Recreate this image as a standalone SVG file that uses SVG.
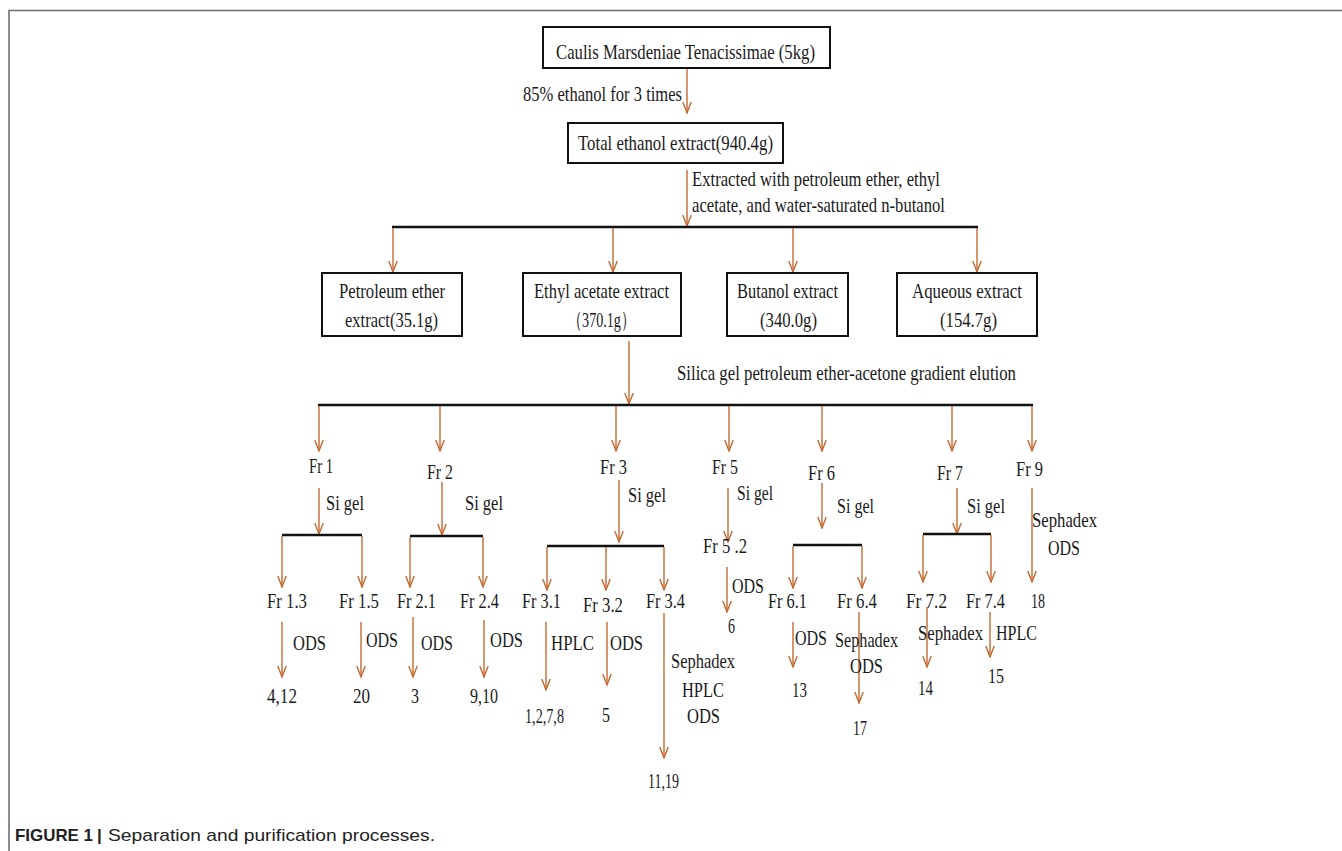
<svg xmlns="http://www.w3.org/2000/svg" width="1342" height="851" viewBox="0 0 1342 851">
<style>
.t{font-family:"Liberation Serif","Times New Roman",serif;font-size:21px;fill:#1a1a1a}
.b{font-size:22px}
.box{fill:#fff;stroke:#111;stroke-width:2}
.bar{stroke:#111;stroke-width:2.6;fill:none}
.ar{stroke:#C46A32;stroke-width:1.4;fill:none;marker-end:url(#ah)}
.frame{stroke:#707070;stroke-width:1.6;fill:none}
.cap{font-family:"Liberation Sans",Arial,sans-serif;font-size:17px;fill:#222}
</style>
<defs>
<marker id="ah" viewBox="0 0 12 10" refX="11" refY="5" markerWidth="12" markerHeight="10" markerUnits="userSpaceOnUse" orient="auto">
<path d="M0,0.8 L11,5 L0,9.2" fill="none" stroke="#C46A32" stroke-width="1.4"/>
</marker>
</defs>
<rect width="1342" height="851" fill="#fff"/>
<path class="frame" d="M9,851 V10.5 H1342"/>

<g id="connectors">
<line class="ar" x1="687" y1="68" x2="687" y2="113"/>
<line class="ar" x1="687" y1="170" x2="687" y2="226"/>
<line class="bar" x1="392" y1="227" x2="978" y2="227"/>
<line class="ar" x1="393" y1="228" x2="393" y2="272"/>
<line class="ar" x1="613" y1="228" x2="613" y2="272"/>
<line class="ar" x1="793" y1="228" x2="793" y2="272"/>
<line class="ar" x1="977" y1="228" x2="977" y2="272"/>
<line class="ar" x1="629" y1="341" x2="629" y2="404"/>
<line class="bar" x1="318" y1="405" x2="1033" y2="405"/>
<line class="ar" x1="319" y1="406" x2="319" y2="451"/>
<line class="ar" x1="440" y1="406" x2="440" y2="451"/>
<line class="ar" x1="616" y1="406" x2="616" y2="451"/>
<line class="ar" x1="729" y1="406" x2="729" y2="451"/>
<line class="ar" x1="822" y1="406" x2="822" y2="451"/>
<line class="ar" x1="952" y1="406" x2="952" y2="451"/>
<line class="ar" x1="1032" y1="406" x2="1032" y2="451"/>
<line class="ar" x1="319" y1="488" x2="319" y2="534"/>
<line class="bar" x1="282" y1="535" x2="362" y2="535"/>
<line class="ar" x1="282" y1="536" x2="282" y2="587"/>
<line class="ar" x1="362" y1="536" x2="362" y2="587"/>
<line class="ar" x1="282" y1="622" x2="282" y2="677"/>
<line class="ar" x1="361" y1="622" x2="361" y2="677"/>
<line class="ar" x1="442" y1="482" x2="442" y2="535"/>
<line class="bar" x1="410" y1="536" x2="483" y2="536"/>
<line class="ar" x1="410" y1="537" x2="410" y2="587"/>
<line class="ar" x1="483" y1="537" x2="483" y2="587"/>
<line class="ar" x1="413" y1="617" x2="413" y2="677"/>
<line class="ar" x1="484" y1="620" x2="484" y2="677"/>
<line class="ar" x1="619" y1="480" x2="619" y2="542"/>
<line class="bar" x1="547" y1="546" x2="664" y2="546"/>
<line class="ar" x1="547" y1="547" x2="547" y2="590"/>
<line class="ar" x1="606" y1="547" x2="606" y2="590"/>
<line class="ar" x1="664" y1="547" x2="664" y2="590"/>
<line class="ar" x1="546" y1="622" x2="546" y2="690"/>
<line class="ar" x1="607" y1="622" x2="607" y2="685"/>
<line class="ar" x1="664" y1="613" x2="664" y2="758"/>
<line class="ar" x1="728" y1="488" x2="728" y2="542"/>
<line class="ar" x1="727" y1="567" x2="727" y2="612"/>
<line class="ar" x1="822" y1="483" x2="822" y2="528"/>
<line class="bar" x1="793" y1="545" x2="862" y2="545"/>
<line class="ar" x1="793" y1="546" x2="793" y2="588"/>
<line class="ar" x1="862" y1="546" x2="862" y2="588"/>
<line class="ar" x1="793" y1="622" x2="793" y2="667"/>
<line class="ar" x1="859" y1="612" x2="859" y2="703"/>
<line class="ar" x1="957" y1="488" x2="957" y2="534"/>
<line class="bar" x1="923" y1="534" x2="991" y2="534"/>
<line class="ar" x1="923" y1="535" x2="923" y2="582"/>
<line class="ar" x1="991" y1="535" x2="991" y2="582"/>
<line class="ar" x1="927" y1="607" x2="927" y2="667"/>
<line class="ar" x1="990" y1="612" x2="990" y2="657"/>
<line class="ar" x1="1032" y1="488" x2="1032" y2="582"/>
</g>

<g id="n-start"><rect class="box" x="543" y="27" width="287" height="41"/>
<text class="t b" x="556" y="59" textLength="259" lengthAdjust="spacingAndGlyphs">Caulis Marsdeniae Tenacissimae (5kg)</text></g>
<g id="lbl-ethanol"><text class="t b" x="523" y="101" textLength="159" lengthAdjust="spacingAndGlyphs">85% ethanol for 3 times</text></g>
<g id="n-total"><rect class="box" x="568" y="123" width="215" height="40"/>
<text class="t b" x="578" y="150" textLength="195" lengthAdjust="spacingAndGlyphs">Total ethanol extract(940.4g)</text></g>
<g id="lbl-extracted"><text class="t b" x="692" y="186" textLength="248" lengthAdjust="spacingAndGlyphs">Extracted with petroleum ether, ethyl</text>
<text class="t b" x="692" y="212" textLength="253" lengthAdjust="spacingAndGlyphs">acetate, and water-saturated n-butanol</text></g>

<g id="n-pet"><rect class="box" x="322" y="273" width="140" height="63"/>
<text class="t b" x="339" y="298" textLength="106" lengthAdjust="spacingAndGlyphs">Petroleum ether</text>
<text class="t b" x="345" y="327" textLength="93" lengthAdjust="spacingAndGlyphs">extract(35.1g)</text></g>
<g id="n-ethyl"><rect class="box" x="523" y="273" width="158" height="63"/>
<text class="t b" x="534" y="298" textLength="135" lengthAdjust="spacingAndGlyphs">Ethyl acetate extract</text>
<text class="t b" x="568" y="327" textLength="67" lengthAdjust="spacingAndGlyphs">（370.1g）</text></g>
<g id="n-butanol"><rect class="box" x="727" y="273" width="121" height="63"/>
<text class="t b" x="737" y="298" textLength="101" lengthAdjust="spacingAndGlyphs">Butanol extract</text>
<text class="t b" x="760" y="327" textLength="57" lengthAdjust="spacingAndGlyphs">(340.0g)</text></g>
<g id="n-aqueous"><rect class="box" x="897" y="273" width="140" height="63"/>
<text class="t b" x="912" y="298" textLength="110" lengthAdjust="spacingAndGlyphs">Aqueous extract</text>
<text class="t b" x="940" y="327" textLength="57" lengthAdjust="spacingAndGlyphs">(154.7g)</text></g>
<g id="lbl-silica"><text class="t b" x="677" y="380" textLength="339" lengthAdjust="spacingAndGlyphs">Silica gel petroleum ether-acetone gradient elution</text></g>

<g id="n-fr1"><text class="t" x="309" y="473" textLength="24" lengthAdjust="spacingAndGlyphs">Fr 1</text>
<text class="t" x="326" y="510" textLength="38" lengthAdjust="spacingAndGlyphs">Si gel</text></g>
<g id="n-fr13"><text class="t" x="267" y="608" textLength="40" lengthAdjust="spacingAndGlyphs">Fr 1.3</text>
<text class="t" x="293" y="650" textLength="33" lengthAdjust="spacingAndGlyphs">ODS</text>
<text class="t" x="267" y="703" textLength="30" lengthAdjust="spacingAndGlyphs">4,12</text></g>
<g id="n-fr15"><text class="t" x="339" y="608" textLength="40" lengthAdjust="spacingAndGlyphs">Fr 1.5</text>
<text class="t" x="366" y="647" textLength="32" lengthAdjust="spacingAndGlyphs">ODS</text>
<text class="t" x="353" y="703" textLength="17" lengthAdjust="spacingAndGlyphs">20</text></g>

<g id="n-fr2"><text class="t" x="427" y="479" textLength="26" lengthAdjust="spacingAndGlyphs">Fr 2</text>
<text class="t" x="465" y="510" textLength="38" lengthAdjust="spacingAndGlyphs">Si gel</text></g>
<g id="n-fr21"><text class="t" x="397" y="608" textLength="39" lengthAdjust="spacingAndGlyphs">Fr 2.1</text>
<text class="t" x="421" y="650" textLength="32" lengthAdjust="spacingAndGlyphs">ODS</text>
<text class="t" x="411" y="703" textLength="8" lengthAdjust="spacingAndGlyphs">3</text></g>
<g id="n-fr24"><text class="t" x="460" y="608" textLength="39" lengthAdjust="spacingAndGlyphs">Fr 2.4</text>
<text class="t" x="490" y="647" textLength="33" lengthAdjust="spacingAndGlyphs">ODS</text>
<text class="t" x="470" y="703" textLength="28" lengthAdjust="spacingAndGlyphs">9,10</text></g>

<g id="n-fr3"><text class="t" x="600" y="474" textLength="27" lengthAdjust="spacingAndGlyphs">Fr 3</text>
<text class="t" x="628" y="502" textLength="38" lengthAdjust="spacingAndGlyphs">Si gel</text></g>
<g id="n-fr31"><text class="t" x="522" y="608" textLength="39" lengthAdjust="spacingAndGlyphs">Fr 3.1</text>
<text class="t" x="551" y="650" textLength="43" lengthAdjust="spacingAndGlyphs">HPLC</text>
<text class="t" x="525" y="723" textLength="39" lengthAdjust="spacingAndGlyphs">1,2,7,8</text></g>
<g id="n-fr32"><text class="t" x="583" y="612" textLength="40" lengthAdjust="spacingAndGlyphs">Fr 3.2</text>
<text class="t" x="610" y="650" textLength="33" lengthAdjust="spacingAndGlyphs">ODS</text>
<text class="t" x="602" y="722" textLength="8" lengthAdjust="spacingAndGlyphs">5</text></g>
<g id="n-fr34"><text class="t" x="646" y="608" textLength="39" lengthAdjust="spacingAndGlyphs">Fr 3.4</text>
<text class="t" x="671" y="668" textLength="64" lengthAdjust="spacingAndGlyphs">Sephadex</text>
<text class="t" x="682" y="697" textLength="42" lengthAdjust="spacingAndGlyphs">HPLC</text>
<text class="t" x="687" y="723" textLength="33" lengthAdjust="spacingAndGlyphs">ODS</text>
<text class="t" x="648" y="788" textLength="31" lengthAdjust="spacingAndGlyphs">11,19</text></g>

<g id="n-fr5"><text class="t" x="712" y="474" textLength="26" lengthAdjust="spacingAndGlyphs">Fr 5</text>
<text class="t" x="737" y="500" textLength="36" lengthAdjust="spacingAndGlyphs">Si gel</text></g>
<g id="n-fr52"><text class="t" x="703" y="553" textLength="44" lengthAdjust="spacingAndGlyphs">Fr 5 .2</text>
<text class="t" x="732" y="593" textLength="32" lengthAdjust="spacingAndGlyphs">ODS</text>
<text class="t" x="728" y="633" textLength="7" lengthAdjust="spacingAndGlyphs">6</text></g>

<g id="n-fr6"><text class="t" x="808" y="480" textLength="27" lengthAdjust="spacingAndGlyphs">Fr 6</text>
<text class="t" x="837" y="513" textLength="37" lengthAdjust="spacingAndGlyphs">Si gel</text></g>
<g id="n-fr61"><text class="t" x="768" y="608" textLength="39" lengthAdjust="spacingAndGlyphs">Fr 6.1</text>
<text class="t" x="795" y="645" textLength="32" lengthAdjust="spacingAndGlyphs">ODS</text>
<text class="t" x="792" y="697" textLength="15" lengthAdjust="spacingAndGlyphs">13</text></g>
<g id="n-fr64"><text class="t" x="837" y="608" textLength="40" lengthAdjust="spacingAndGlyphs">Fr 6.4</text>
<text class="t" x="835" y="647" textLength="63" lengthAdjust="spacingAndGlyphs">Sephadex</text>
<text class="t" x="850" y="673" textLength="33" lengthAdjust="spacingAndGlyphs">ODS</text>
<text class="t" x="853" y="735" textLength="14" lengthAdjust="spacingAndGlyphs">17</text></g>

<g id="n-fr7"><text class="t" x="937" y="480" textLength="26" lengthAdjust="spacingAndGlyphs">Fr 7</text>
<text class="t" x="967" y="513" textLength="38" lengthAdjust="spacingAndGlyphs">Si gel</text></g>
<g id="n-fr72"><text class="t" x="906" y="608" textLength="41" lengthAdjust="spacingAndGlyphs">Fr 7.2</text>
<text class="t" x="918" y="640" textLength="65" lengthAdjust="spacingAndGlyphs">Sephadex</text>
<text class="t" x="918" y="695" textLength="15" lengthAdjust="spacingAndGlyphs">14</text></g>
<g id="n-fr74"><text class="t" x="966" y="608" textLength="39" lengthAdjust="spacingAndGlyphs">Fr 7.4</text>
<text class="t" x="996" y="640" textLength="41" lengthAdjust="spacingAndGlyphs">HPLC</text>
<text class="t" x="988" y="683" textLength="16" lengthAdjust="spacingAndGlyphs">15</text></g>

<g id="n-fr9"><text class="t" x="1016" y="476" textLength="27" lengthAdjust="spacingAndGlyphs">Fr 9</text>
<text class="t" x="1032" y="527" textLength="65" lengthAdjust="spacingAndGlyphs">Sephadex</text>
<text class="t" x="1048" y="555" textLength="32" lengthAdjust="spacingAndGlyphs">ODS</text>
<text class="t" x="1031" y="608" textLength="14" lengthAdjust="spacingAndGlyphs">18</text></g>

<g id="caption"><text class="cap" x="15" y="841" font-weight="bold" textLength="78" lengthAdjust="spacingAndGlyphs">FIGURE 1</text>
<text class="cap" x="97" y="841" font-weight="bold">|</text>
<text class="cap" x="108" y="841" textLength="327" lengthAdjust="spacingAndGlyphs">Separation and purification processes.</text></g>
</svg>
